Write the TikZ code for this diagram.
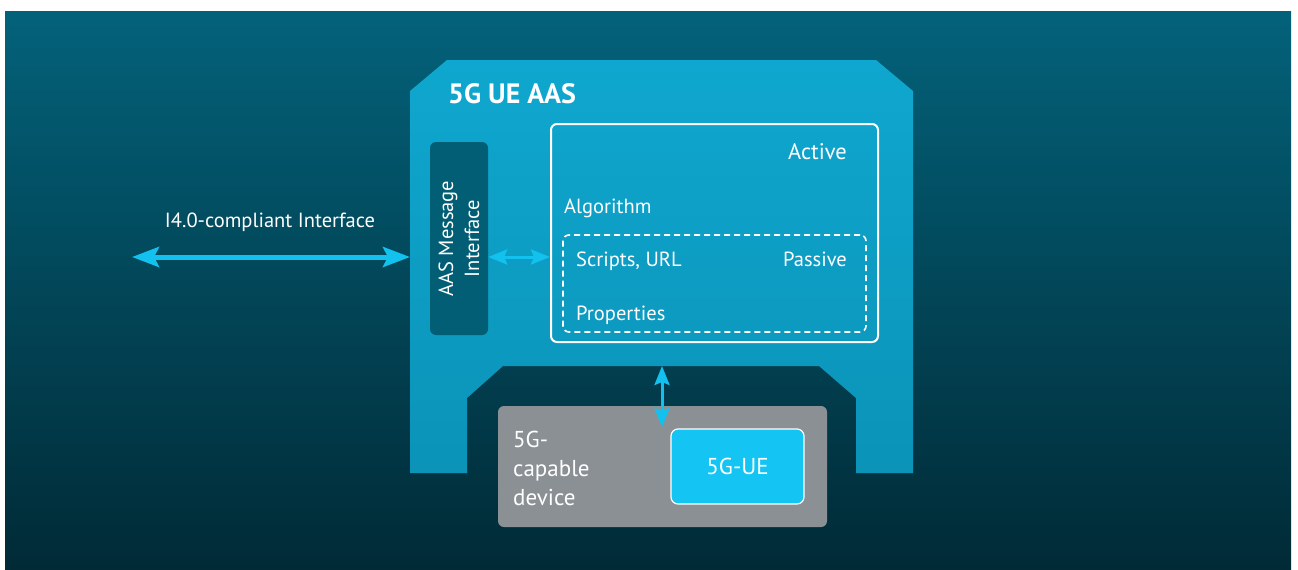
\documentclass[tikz,border=0pt]{standalone}
\usepackage{fontspec}
\setmainfont{PT Sans}
\usetikzlibrary{arrows.meta}

\definecolor{bgtop}{HTML}{03627A}
\definecolor{bgmid}{HTML}{024456}
\definecolor{bgbot}{HTML}{012A36}
\definecolor{aastop}{HTML}{0FA7CF}
\definecolor{aasbot}{HTML}{0B93B8}
\definecolor{msgcol}{HTML}{025E74}
\definecolor{arrowcol}{HTML}{13C1EF}
\definecolor{devcol}{HTML}{8B9095}
\definecolor{uecol}{HTML}{14C5F4}

\tikzset{
  txt/.style={text=white, inner sep=0pt, font=\fontsize{20.5}{26}\selectfont},
  msgbox/.style={fill=msgcol, rounded corners=6pt, inner sep=0pt,
    minimum width=58pt, minimum height=193pt},
  activebox/.style={draw=white, line width=2pt, rounded corners=6pt,
    minimum width=327pt, minimum height=218pt},
  passivebox/.style={draw=white, line width=1.6pt, dash pattern=on 6pt off 4pt,
    rounded corners=6pt, minimum width=303pt, minimum height=97pt},
  devicebox/.style={fill=devcol, rounded corners=6pt,
    minimum width=329pt, minimum height=121pt},
  uebox/.style={fill=uecol, draw=white, line width=1.2pt, rounded corners=7pt,
    minimum width=133pt, minimum height=75pt, text=white,
    font=\fontsize{23}{27}\selectfont},
  link/.style={draw=arrowcol, line width=3pt,
    {Stealth[length=19pt,width=15pt,inset=3pt]}-{Stealth[length=19pt,width=15pt,inset=3pt]}},
  bigarrow/.style={draw=arrowcol, line width=5pt,
    {Stealth[length=27pt,width=20pt,inset=5pt]}-{Stealth[length=27pt,width=20pt,inset=5pt]}}
}

\begin{document}
\begin{tikzpicture}[x=1pt,y=-1pt]
  \useasboundingbox (0,0) rectangle (1298,570);
  % background
  \shade[top color=bgtop, middle color=bgmid, bottom color=bgbot]
    (5,11) rectangle (1291,570);
  % the AAS frame with its notch
  \shade[top color=aastop, bottom color=aasbot]
    (410,91) -- (447,60) -- (876,60) -- (913,91) -- (913,473) -- (856,473)
    -- (856,398) -- (819,366) -- (503,366) -- (467,398) -- (467,473)
    -- (410,473) -- cycle;
  \node[txt, anchor=base west, font=\fontsize{28}{32}\selectfont\bfseries]
    (title) at (448,103) {5G UE AAS};

  % message interface
  \node[msgbox] (msg) at (459,238.5) {};
  \node[txt, rotate=90, align=center] (msgtext) at (msg.center) {AAS Message\\Interface};

  % active / passive parts
  \node[activebox] (active) at (714.5,233) {};
  \node[passivebox] (passive) at (714.5,283.5) {};
  \node[txt, anchor=base east, font=\fontsize{22.5}{26}\selectfont] (activelbl) at (847,159) {Active};
  \node[txt, anchor=base west] (algo) at (564,213) {Algorithm};
  \node[txt, anchor=base west] (scripts) at (576,266) {Scripts, URL};
  \node[txt, anchor=base east] (passivelbl) at (847,266) {Passive};
  \node[txt, anchor=base west] (props) at (576,320) {Properties};

  % device
  \node[devicebox] (device) at (662.5,466.5) {};
  \node[txt, anchor=base west, align=left, font=\fontsize{23}{29}\selectfont]
    (devlbl) at (513,505) {5G-\\capable\\device};
  \node[uebox] (ue) at (737.5,466.5) {5G-UE};

  % connectors
  \coordinate (iface) at (132,257);
  \coordinate (aasin) at (410,257);
  \coordinate (notch) at (662,366);
  \coordinate (ueport) at (662,427);
  \node[txt, anchor=base] (ifacelbl) at (270,227) {I4.0-compliant Interface};
  \draw[bigarrow] (iface) -- (aasin);
  \draw[link] (msg.east |- aasin) -- (active.west |- aasin);
  \draw[link] (notch) -- (ueport);
\end{tikzpicture}
\end{document}
